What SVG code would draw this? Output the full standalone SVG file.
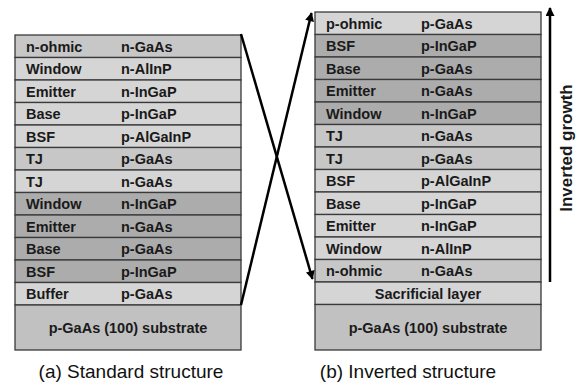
<svg xmlns="http://www.w3.org/2000/svg" width="579" height="387" viewBox="0 0 579 387">
<style>
.l{fill:#d5d5d5}.m{fill:#c7c7c7}.d{fill:#acacac}.s{fill:#c1c1c1}
rect{stroke:#3a3a3a;stroke-width:1.3}
.t{font-family:"Liberation Sans",Arial,sans-serif;font-weight:bold;font-size:14.5px;fill:#1a1a1a}
.c{text-anchor:middle}
.cap{font-family:"Liberation Sans",Arial,sans-serif;font-size:19px;fill:#111;text-anchor:middle}
.ln{stroke:#000;stroke-width:2.5;fill:none}
</style>
<defs>
<marker id="ah" viewBox="0 0 10 10" refX="9" refY="5" markerWidth="10" markerHeight="9" markerUnits="userSpaceOnUse" orient="auto">
<path d="M0,0 L10,5 L0,10 Z" fill="#000"/>
</marker>
</defs>
<g id="standard">
<g id="a0"><rect class="m" x="15" y="35" width="226" height="22.5"/><text class="t" x="26" y="51.5">n-ohmic</text><text class="t" x="121" y="51.5">n-GaAs</text></g>
<g id="a1"><rect class="l" x="15" y="57.5" width="226" height="22.5"/><text class="t" x="26" y="74">Window</text><text class="t" x="121" y="74">n-AlInP</text></g>
<g id="a2"><rect class="l" x="15" y="80" width="226" height="22.5"/><text class="t" x="26" y="96.5">Emitter</text><text class="t" x="121" y="96.5">n-InGaP</text></g>
<g id="a3"><rect class="l" x="15" y="102.5" width="226" height="22.5"/><text class="t" x="26" y="119">Base</text><text class="t" x="121" y="119">p-InGaP</text></g>
<g id="a4"><rect class="l" x="15" y="125" width="226" height="22.5"/><text class="t" x="26" y="141.5">BSF</text><text class="t" x="121" y="141.5">p-AlGaInP</text></g>
<g id="a5"><rect class="m" x="15" y="147.5" width="226" height="22.5"/><text class="t" x="26" y="164">TJ</text><text class="t" x="121" y="164">p-GaAs</text></g>
<g id="a6"><rect class="l" x="15" y="170" width="226" height="22.5"/><text class="t" x="26" y="186.5">TJ</text><text class="t" x="121" y="186.5">n-GaAs</text></g>
<g id="a7"><rect class="d" x="15" y="192.5" width="226" height="22.5"/><text class="t" x="26" y="209">Window</text><text class="t" x="121" y="209">n-InGaP</text></g>
<g id="a8"><rect class="d" x="15" y="215" width="226" height="22.5"/><text class="t" x="26" y="231.5">Emitter</text><text class="t" x="121" y="231.5">n-GaAs</text></g>
<g id="a9"><rect class="d" x="15" y="237.5" width="226" height="22.5"/><text class="t" x="26" y="254">Base</text><text class="t" x="121" y="254">p-GaAs</text></g>
<g id="a10"><rect class="d" x="15" y="260" width="226" height="22.5"/><text class="t" x="26" y="276.5">BSF</text><text class="t" x="121" y="276.5">p-InGaP</text></g>
<g id="a11"><rect class="l" x="15" y="282.5" width="226" height="22.5"/><text class="t" x="26" y="299">Buffer</text><text class="t" x="121" y="299">p-GaAs</text></g>
<g id="a12"><rect class="s" x="15" y="305" width="226" height="45"/><text class="t c" x="128" y="333">p-GaAs (100) substrate</text></g>
</g>
<g id="inverted">
<g id="b0"><rect class="l" x="315" y="12" width="226" height="22.5"/><text class="t" x="326" y="28.5">p-ohmic</text><text class="t" x="421" y="28.5">p-GaAs</text></g>
<g id="b1"><rect class="d" x="315" y="34.5" width="226" height="22.5"/><text class="t" x="326" y="51">BSF</text><text class="t" x="421" y="51">p-InGaP</text></g>
<g id="b2"><rect class="d" x="315" y="57" width="226" height="22.5"/><text class="t" x="326" y="73.5">Base</text><text class="t" x="421" y="73.5">p-GaAs</text></g>
<g id="b3"><rect class="d" x="315" y="79.5" width="226" height="22.5"/><text class="t" x="326" y="96">Emitter</text><text class="t" x="421" y="96">n-GaAs</text></g>
<g id="b4"><rect class="d" x="315" y="102" width="226" height="22.5"/><text class="t" x="326" y="118.5">Window</text><text class="t" x="421" y="118.5">n-InGaP</text></g>
<g id="b5"><rect class="m" x="315" y="124.5" width="226" height="22.5"/><text class="t" x="326" y="141">TJ</text><text class="t" x="421" y="141">n-GaAs</text></g>
<g id="b6"><rect class="m" x="315" y="147" width="226" height="22.5"/><text class="t" x="326" y="163.5">TJ</text><text class="t" x="421" y="163.5">p-GaAs</text></g>
<g id="b7"><rect class="l" x="315" y="169.5" width="226" height="22.5"/><text class="t" x="326" y="186">BSF</text><text class="t" x="421" y="186">p-AlGaInP</text></g>
<g id="b8"><rect class="l" x="315" y="192" width="226" height="22.5"/><text class="t" x="326" y="208.5">Base</text><text class="t" x="421" y="208.5">p-InGaP</text></g>
<g id="b9"><rect class="l" x="315" y="214.5" width="226" height="22.5"/><text class="t" x="326" y="231">Emitter</text><text class="t" x="421" y="231">n-InGaP</text></g>
<g id="b10"><rect class="l" x="315" y="237" width="226" height="22.5"/><text class="t" x="326" y="253.5">Window</text><text class="t" x="421" y="253.5">n-AlInP</text></g>
<g id="b11"><rect class="m" x="315" y="259.5" width="226" height="22.5"/><text class="t" x="326" y="276">n-ohmic</text><text class="t" x="421" y="276">n-GaAs</text></g>
<g id="b12"><rect class="l" x="315" y="282" width="226" height="22.5"/><text class="t c" x="428" y="298.5">Sacrificial layer</text></g>
<g id="b13"><rect class="s" x="315" y="304.5" width="226" height="45.5"/><text class="t c" x="428" y="333">p-GaAs (100) substrate</text></g>
</g>
<g id="connectors">
<line class="ln" x1="241" y1="34" x2="312.5" y2="279" marker-end="url(#ah)"/>
<line class="ln" x1="241" y1="305" x2="311.5" y2="13" marker-end="url(#ah)"/>
<line class="ln" x1="550" y1="282" x2="550" y2="8" marker-end="url(#ah)"/>
</g>
<text class="t" transform="translate(572,148) rotate(-90)" text-anchor="middle" style="font-size:17px">Inverted growth</text>
<text class="cap" x="131" y="378">(a) Standard structure</text>
<text class="cap" x="408" y="378">(b) Inverted structure</text>
</svg>
